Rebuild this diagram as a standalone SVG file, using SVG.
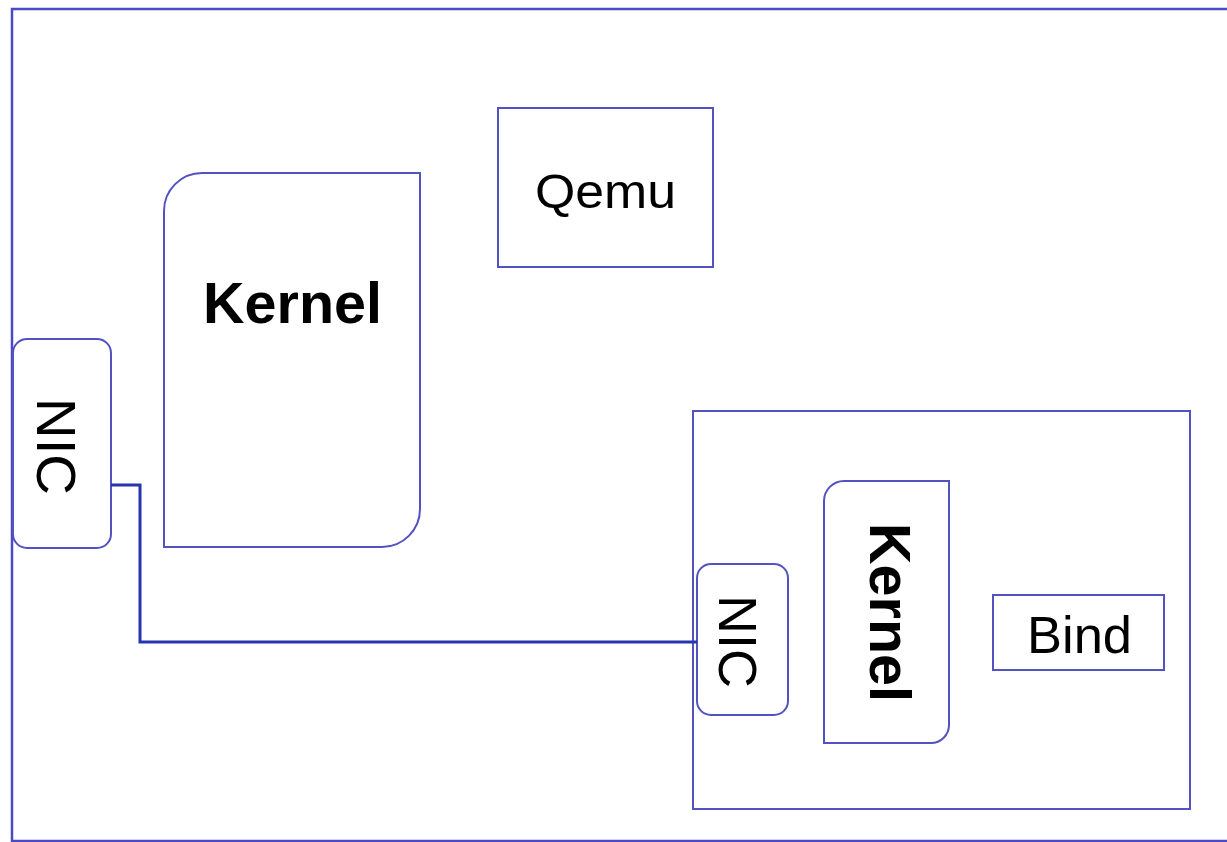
<svg xmlns="http://www.w3.org/2000/svg" width="1227" height="842" viewBox="0 0 1227 842">
  <style>
    .box { fill: #ffffff; stroke: #5252c0; stroke-width: 2; }
    .outer { fill: #ffffff; stroke: #4a4ac4; stroke-width: 2.5; }
    .lbl { font-family: "Liberation Sans", Arial, sans-serif; fill: #000000; }
    .bold { font-weight: bold; }
    .conn { fill: none; stroke: #2536b0; stroke-width: 3; }
  </style>
  <rect width="1227" height="842" fill="#ffffff"/>
  <g id="host">
    <rect class="outer" x="12" y="9" width="1240" height="832"/>
  </g>
  <g id="qemu">
    <rect class="box" x="498" y="108" width="215" height="159"/>
    <text class="lbl" x="605.5" y="208" font-size="48" text-anchor="middle" textLength="141" lengthAdjust="spacingAndGlyphs">Qemu</text>
  </g>
  <g id="kernel-host">
    <path class="box" d="M164,211 A38,38 0 0 1 202,173 L420,173 L420,509 A38,38 0 0 1 382,547 L164,547 Z"/>
    <text class="lbl bold" x="292.5" y="323" font-size="58" text-anchor="middle" textLength="179" lengthAdjust="spacingAndGlyphs">Kernel</text>
  </g>
  <g id="nic-host">
    <rect class="box" x="13" y="339" width="98" height="209" rx="14" ry="14"/>
    <text class="lbl" transform="translate(37,446.5) rotate(90)" x="0" y="0" font-size="56" text-anchor="middle" textLength="97" lengthAdjust="spacingAndGlyphs">NIC</text>
  </g>
  <g id="guest">
    <rect class="box" x="693" y="411" width="497" height="398"/>
  </g>
  <g id="nic-guest">
    <rect class="box" x="697" y="564" width="91" height="151" rx="14" ry="14"/>
    <text class="lbl" transform="translate(719,641.5) rotate(90)" x="0" y="0" font-size="54" text-anchor="middle" textLength="93" lengthAdjust="spacingAndGlyphs">NIC</text>
  </g>
  <g id="kernel-guest">
    <path class="box" d="M824,501 A20,20 0 0 1 844,481 L949,481 L949,725 A18,18 0 0 1 931,743 L824,743 Z"/>
    <text class="lbl bold" transform="translate(870,612.5) rotate(90)" x="0" y="0" font-size="57" text-anchor="middle" textLength="179" lengthAdjust="spacingAndGlyphs">Kernel</text>
  </g>
  <g id="bind">
    <rect class="box" x="993" y="595" width="171" height="75"/>
    <text class="lbl" x="1079.5" y="653" font-size="52" text-anchor="middle" textLength="105" lengthAdjust="spacingAndGlyphs">Bind</text>
  </g>
  <g id="connectors">
    <path class="conn" d="M111,485 L140,485 L140,642 L697,642"/>
  </g>
</svg>
